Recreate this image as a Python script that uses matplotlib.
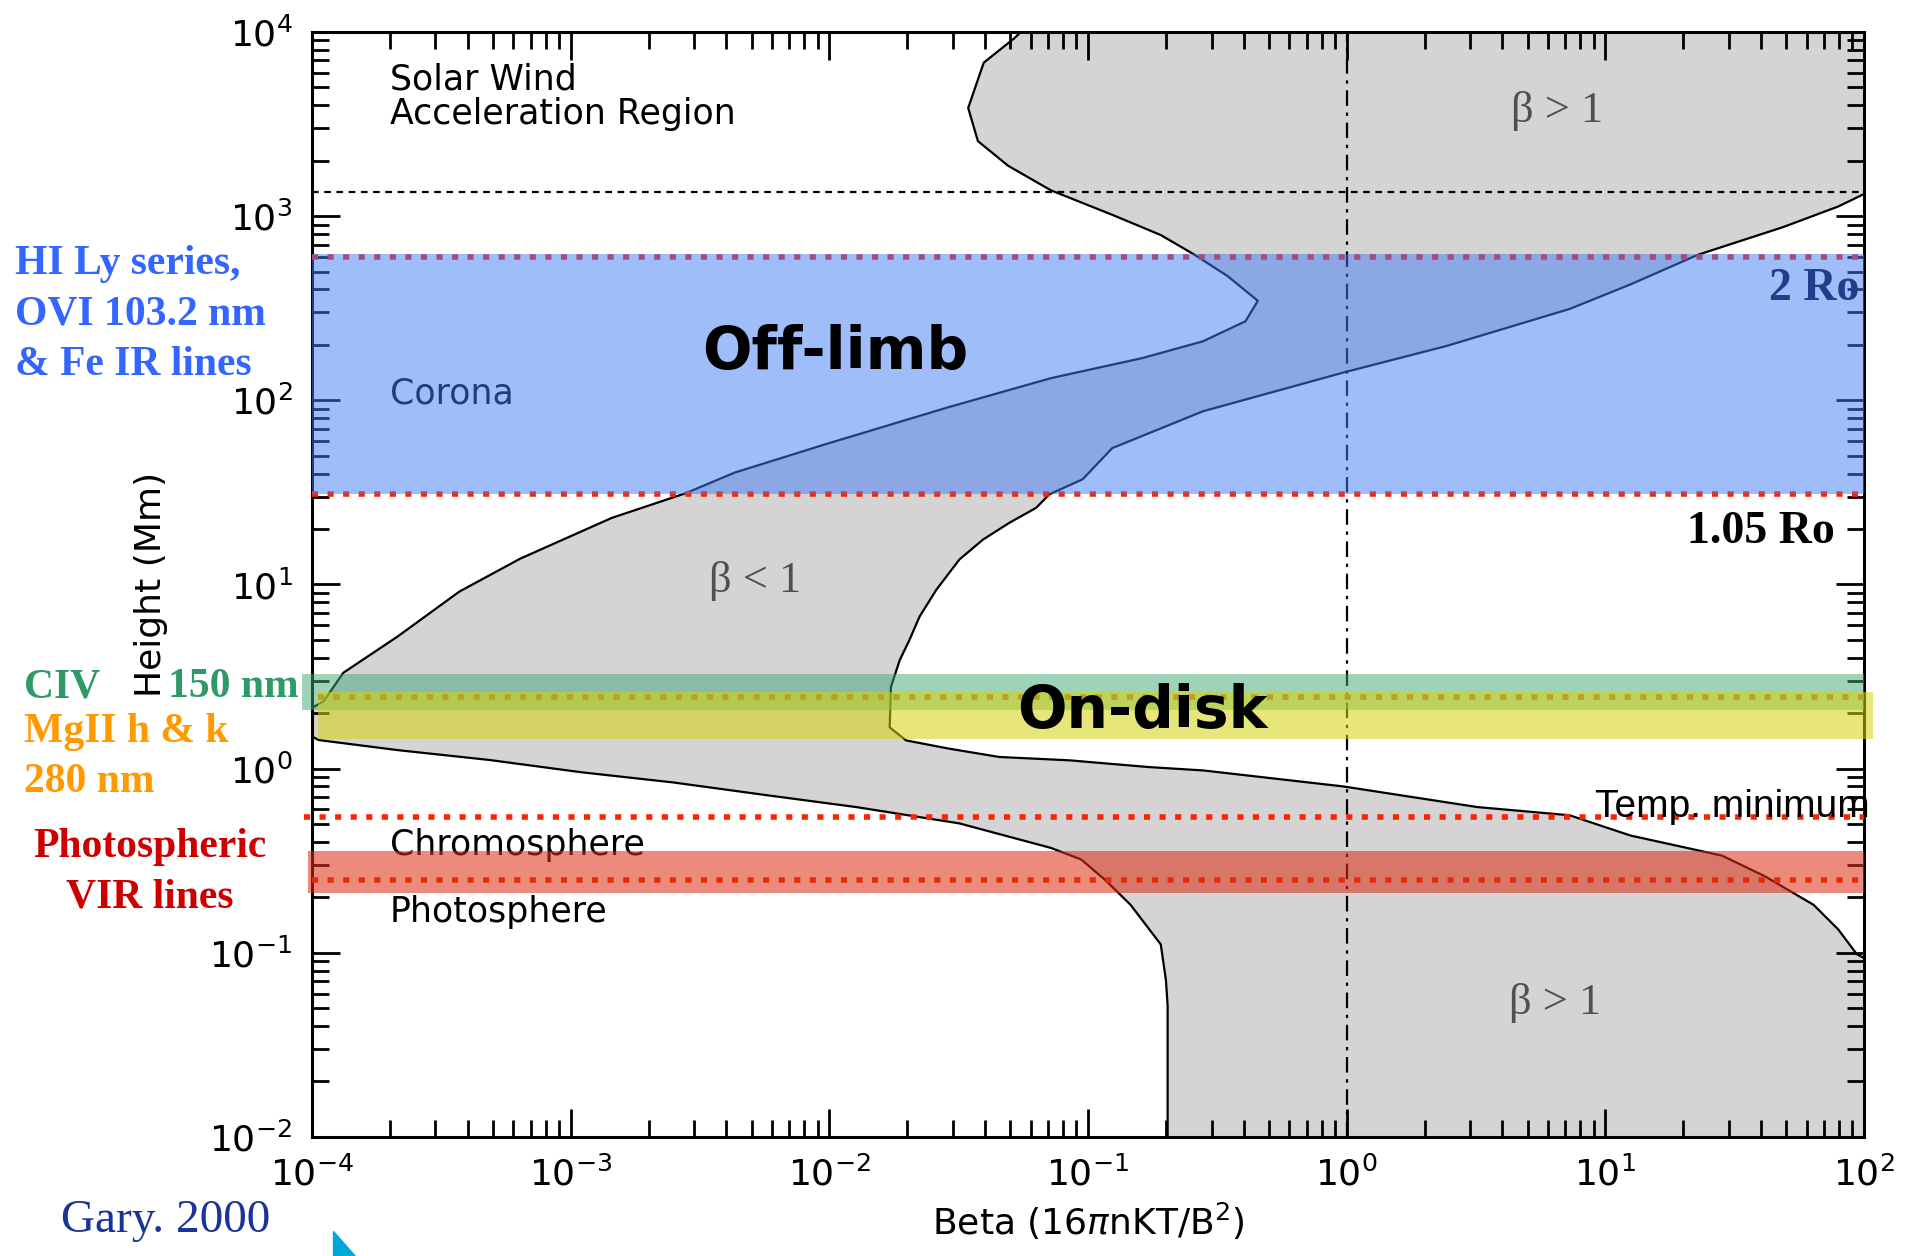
import numpy as np
import matplotlib.pyplot as plt
from matplotlib.patches import Polygon

# lower edge of the plasma-beta range (Mm, beta)
h_min = [0.01, 0.0516, 0.0708, 0.111, 0.182, 0.247, 0.321, 0.371, 0.504, 0.618,
         0.719, 0.841, 0.955, 1.114, 1.259, 1.429, 1.778, 2.328, 3.311, 5.21,
         9.14, 13.8, 22.96, 31.26, 40.46, 57.81, 91.6, 131.8, 169.4, 208.9,
         268.5, 346.7, 471, 616.6, 788.8, 1016, 1380, 1875, 2553, 3864,
         6808, 9268, 10000]
beta_min = [0.203, 0.203, 0.200, 0.191, 0.146, 0.117, 0.094, 0.0718, 0.0318, 0.0127,
            0.00564, 0.00249, 0.0011, 4.84e-4, 2.15e-4, 1.06e-4, 8e-5, 1.11e-4, 1.32e-4, 2.14e-4,
            3.71e-4, 6.38e-4, 1.44e-3, 2.78e-3, 4.3e-3, 9.7e-3, 0.0288, 0.0718, 0.162, 0.278,
            0.406, 0.453, 0.347, 0.258, 0.191, 0.124, 0.0718, 0.0491, 0.0375, 0.0344,
            0.0395, 0.052, 0.055]

# upper edge of the plasma-beta range
h_max = [0.01, 0.063, 0.087, 0.0984, 0.134, 0.182, 0.26, 0.337, 0.433, 0.558,
         0.618, 0.80, 0.977, 1.019, 1.109, 1.156, 1.282, 1.422, 1.675, 2.78,
         3.88, 5.0, 6.68, 9.35, 13.65, 17.5, 21.63, 26.06, 30.83, 37.24,
         54.95, 87.1, 141.6, 197.7, 313.3, 425.6, 616.6, 871, 1127, 1318,
         1585, 10000]
beta_max = [1000, 1000, 110, 93.6, 79.4, 63.8, 41.4, 28.2, 12.5, 7.26,
            3.2, 0.97, 0.279, 0.172, 0.0845, 0.0454, 0.0291, 0.0198, 0.0171, 0.0173,
            0.0187, 0.0204, 0.0223, 0.0259, 0.0318, 0.0392, 0.0497, 0.0630, 0.0708, 0.0953,
            0.124, 0.278, 0.975, 2.45, 7.28, 12.5, 22.8, 48.6, 79.4, 100,
            1000, 1000]

sw_height = 1358          # top of corona / solar wind boundary (dash line)
corona_band = (30.9, 624)  # 1.05 Ro .. 2 Ro
civ_band = (2.08, 3.27)
mgii_band = (1.44, 2.62)
vir_band = (0.212, 0.355)
ro2_line = 598
ro105_line = 31.0
mgii_line = 2.45
tmin_line = 0.547
vir_line = 0.249

plt.rcParams['font.family'] = 'DejaVu Sans'
fig = plt.figure(figsize=(19.18, 12.56), dpi=100)
ax = fig.add_axes([0.1627, 0.0948, 0.8092, 0.8798])
ax.set_xscale('log')
ax.set_yscale('log')
ax.set_xlim(1e-4, 1e2)
ax.set_ylim(1e-2, 1e4)

gray = '#d6d3d4'
ax.fill(np.concatenate([beta_min, beta_max[::-1]]),
        np.concatenate([h_min, h_max[::-1]]), color=gray, lw=0, zorder=1)
ax.plot(beta_min, h_min, color='k', lw=1.6, zorder=2)
ax.plot(beta_max, h_max, color='k', lw=1.6, zorder=2)

ax.axhline(sw_height, color='k', lw=1.6, ls=(0, (3, 2.5)), zorder=2)
ax.axvline(1, color='k', lw=1.6, ls=(0, (7, 3, 1.5, 3)), zorder=2)

# text of the original figure (sits below the coloured overlays)
ax.text(2.0e-4, 10**3.685, 'Solar Wind', fontsize=25, va='baseline', zorder=2)
ax.text(2.0e-4, 10**3.498, 'Acceleration Region', fontsize=25, va='baseline', zorder=2)
ax.text(2.0e-4, 10**1.98, 'Corona', fontsize=25, va='baseline', zorder=2)
ax.text(2.0e-4, 0.34, 'Chromosphere', fontsize=25, va='baseline', zorder=2)
ax.text(2.0e-4, 0.147, 'Photosphere', fontsize=25, va='baseline', zorder=2)
bkw = dict(family='Liberation Serif', fontsize=32, color='#505050',
           ha='center', va='center', zorder=2)
ax.text(10**-2.288, 10**1.02, 'β < 1', **bkw)
ax.text(10**0.813, 10**3.571, 'β > 1', **bkw)
ax.text(10**0.805, 10**-1.271, 'β > 1', **bkw)

# dotted markers and coloured bands
red = '#ff2200'
dot = (0, (1.1, 1.7))
ax.axhline(ro2_line, color=red, lw=4, ls=dot, zorder=3)
ax.axhline(ro105_line, color=red, lw=4, ls=dot, zorder=3)
ax.axhline(mgii_line, xmin=0.004, xmax=1.0, color=red, lw=4, ls=dot, zorder=3)
ax.axhline(tmin_line, xmin=-0.005, color=red, lw=4, ls=dot, zorder=3, clip_on=False)
ax.axhline(vir_line, color=red, lw=4, ls=dot, zorder=3)

ax.axhspan(*corona_band, color='#417df5', alpha=0.5, lw=0, zorder=4)
ax.axhspan(*civ_band, xmin=-0.0064, xmax=1.0, color='#3fa973', alpha=0.5, lw=0,
           zorder=4, clip_on=False)
ax.axhspan(*mgii_band, xmin=0.004, xmax=1.0058, color='#d5d20d', alpha=0.55, lw=0,
           zorder=4, clip_on=False)
ax.axhspan(*vir_band, xmin=-0.0026, xmax=1.0, color='#dc2e17', alpha=0.56, lw=0,
           zorder=4, clip_on=False)

# annotations on top
ax.text(10**-1.978, 10**2.257, 'Off-limb', fontsize=42, fontweight='bold',
        ha='center', va='center', zorder=6)
ax.text(10**-0.792, 10**0.308, 'On-disk', fontsize=42, fontweight='bold',
        ha='center', va='center', zorder=6)
ax.text(10**0.959, 10**-0.262, 'Temp. minimum', family='Liberation Sans', fontsize=28,
        va='baseline', zorder=6)
ax.text(10**1.632, 10**2.545, '2 Ro', family='Liberation Serif', fontweight='bold',
        fontsize=33, color='#233c8c', va='baseline', zorder=6)
ax.text(10**1.315, 10**1.226, '1.05 Ro', family='Liberation Serif', fontweight='bold',
        fontsize=33, color='k', va='baseline', zorder=6)

ax.tick_params(which='both', direction='in', top=True, right=True, width=2)
ax.tick_params(which='major', length=20, labelsize=26, pad=14)
ax.tick_params(which='minor', length=12)
for s in ax.spines.values():
    s.set_linewidth(2.2)
ax.set_xlabel(r'Beta (16$\pi$nKT/B$^2$)', fontsize=26, labelpad=6)
ax.set_ylabel('Height (Mm)', fontsize=26, labelpad=30)

# labels outside the axes
W, H = 1918, 1256
def ftext(x, y, s, **kw):
    fig.text(x / W, 1 - y / H, s, family='Liberation Serif', va='baseline', **kw)

lab = dict(fontsize=30, fontweight='bold')
ftext(15, 274, 'HI Ly series,', color='#3366ff', **lab)
ftext(15, 324, 'OVI 103.2 nm', color='#3366ff', **lab)
ftext(15, 375, '& Fe IR lines', color='#3366ff', **lab)
ftext(24, 697, 'CIV', color='#2e9a66', **lab)
ftext(168, 697, '150 nm', color='#2e9a66', **lab)
ftext(24, 742, 'MgII h & k', color='#ff9900', **lab)
ftext(24, 792, '280 nm', color='#ff9900', **lab)
ftext(150, 857, 'Photospheric', color='#cc0000', ha='center', **lab)
ftext(150, 907, 'VIR lines', color='#cc0000', ha='center', **lab)
ftext(61, 1232, 'Gary. 2000', color='#1a3399', fontsize=34)

fig.patches.append(Polygon([(332.5 / W, 1 - 1230.5 / H), (332.5 / W, 0), (355 / W, 0)],
                           closed=True, color='#00a8d8', transform=fig.transFigure))

fig.savefig('out.png', dpi=100)
